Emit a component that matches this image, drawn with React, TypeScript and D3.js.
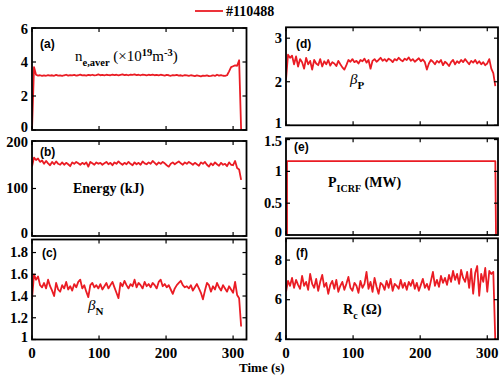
import React from "react";
import * as d3 from "d3";

// ---------- DATA ----------
const legendLabel = "#110488";
const xTicks = [0, 100, 200, 300];

const timeGrid = [
  0, 3, 6, 9, 12, 15, 18, 21, 24, 27, 30, 33, 36, 39, 42, 45, 48, 51, 54, 57,
  60, 63, 66, 69, 72, 75, 78, 81, 84, 87, 90, 93, 96, 99, 102, 105, 108, 111, 114, 117,
  120, 123, 126, 129, 132, 135, 138, 141, 144, 147, 150, 153, 156, 159, 162, 165, 168, 171, 174, 177,
  180, 183, 186, 189, 192, 195, 198, 201, 204, 207, 210, 213, 216, 219, 222, 225, 228, 231, 234, 237,
  240, 243, 246, 249, 252, 255, 258, 261, 264, 267, 270, 273, 276, 279, 282, 285, 288, 291, 294, 297,
  300, 303, 306, 309, 312,
];

const neAver = [
  0, 3.7, 3.25, 3.2, 3.22, 3.18, 3.21, 3.19, 3.23, 3.2,
  3.22, 3.19, 3.24, 3.2, 3.21, 3.18, 3.22, 3.25, 3.2, 3.23,
  3.21, 3.24, 3.2, 3.22, 3.26, 3.21, 3.23, 3.2, 3.24, 3.22,
  3.25, 3.21, 3.23, 3.27, 3.22, 3.24, 3.21, 3.25, 3.23, 3.22,
  3.26, 3.23, 3.25, 3.21, 3.24, 3.27, 3.23, 3.25, 3.22, 3.26,
  3.24, 3.27, 3.23, 3.25, 3.22, 3.26, 3.24, 3.21, 3.25, 3.23,
  3.26, 3.22, 3.24, 3.21, 3.25, 3.23, 3.2, 3.24, 3.22, 3.19,
  3.23, 3.21, 3.24, 3.2, 3.22, 3.19, 3.23, 3.21, 3.18, 3.22,
  3.2, 3.17, 3.21, 3.19, 3.16, 3.2, 3.18, 3.21, 3.17, 3.19,
  3.22, 3.18, 3.25, 3.2, 3.23, 3.19, 3.18, 3.22, 3.45, 3.7,
  3.75, 3.8, 3.78, 4.1, 0,
];

const energy = [
  146, 165, 160, 163, 156, 159, 152, 158, 153, 149,
  156, 151, 157, 152, 150, 155, 150, 154, 151, 147,
  155, 152, 156, 153, 150, 154, 151, 155, 146, 156,
  153, 150, 155, 152, 154, 150, 153, 156, 151, 154,
  149, 155, 152, 157, 153, 150, 154, 151, 156, 152,
  149, 155, 151, 154, 150, 157, 153, 151, 155, 152,
  158, 154, 150, 155, 152, 156, 153, 149, 146, 152,
  155, 151, 154, 157, 153, 150, 155, 152, 156, 153,
  150, 154, 151, 148, 155, 152, 156, 150, 146, 153,
  149, 155, 151, 148, 154, 150, 152, 147, 155, 150,
  149, 158, 143, 140, 118,
];

const betaN = [
  1.37, 1.6, 1.55, 1.58, 1.5, 1.48, 1.52, 1.47, 1.55, 1.49,
  1.45, 1.4, 1.52, 1.46, 1.44, 1.5, 1.47, 1.53, 1.46, 1.49,
  1.45, 1.51, 1.48, 1.53, 1.55, 1.47, 1.5, 1.44, 1.39, 1.5,
  1.52, 1.48, 1.5, 1.47, 1.51, 1.46, 1.49, 1.52, 1.47, 1.5,
  1.53, 1.48, 1.43, 1.38, 1.52, 1.49, 1.54, 1.5, 1.47, 1.51,
  1.49, 1.55, 1.48, 1.52, 1.5, 1.47, 1.53, 1.49, 1.51, 1.48,
  1.52, 1.5, 1.47, 1.53, 1.55, 1.49, 1.51, 1.48, 1.5, 1.46,
  1.42, 1.47, 1.5, 1.52, 1.54, 1.5, 1.48, 1.49, 1.47, 1.5,
  1.45, 1.48, 1.51, 1.47, 1.43, 1.37, 1.45, 1.52, 1.5, 1.44,
  1.49, 1.46, 1.52, 1.48, 1.45, 1.5, 1.47, 1.44, 1.49, 1.46,
  1.43, 1.53, 1.41, 1.38, 1.12,
];

const betaP = [
  2.05, 2.62, 2.55, 2.6, 2.4, 2.58, 2.35, 2.52, 2.45, 2.3,
  2.55, 2.4, 2.48, 2.28, 2.5, 2.42, 2.38, 2.52, 2.35, 2.47,
  2.4, 2.5, 2.37, 2.45, 2.42, 2.36, 2.48, 2.4, 2.33, 2.28,
  2.38, 2.5, 2.46, 2.52, 2.45, 2.48, 2.42, 2.5, 2.47, 2.53,
  2.44, 2.5, 2.3, 2.48, 2.52, 2.46, 2.5, 2.55, 2.48, 2.52,
  2.47, 2.53, 2.5, 2.45, 2.52, 2.49, 2.55, 2.5, 2.47, 2.53,
  2.5, 2.56, 2.48, 2.52, 2.46, 2.5, 2.54, 2.47, 2.51, 2.45,
  2.28, 2.42, 2.5, 2.46, 2.4, 2.48, 2.44, 2.5, 2.38, 2.46,
  2.42, 2.36, 2.45, 2.5, 2.4, 2.47, 2.43, 2.5, 2.45, 2.52,
  2.46, 2.4, 2.48, 2.44, 2.5, 2.42, 2.47, 2.4, 2.45, 2.38,
  2.42, 2.52, 2.3, 2.2, 1.9,
];

const pIcrfTime = [1.5, 1.5, 312, 313];
const pIcrf = [0, 1.16, 1.16, 0];

const rc = [
  6.4, 6.95, 6.7, 7.1, 6.6, 7.0, 6.75, 6.55, 7.2, 6.7,
  6.9, 6.5, 7.3, 6.8, 6.6, 7.05, 6.45, 6.9, 7.25, 6.65,
  6.85, 6.3, 6.75, 6.95, 6.55, 7.0, 6.4, 6.7, 6.9, 6.5,
  6.8, 7.15, 6.6, 6.45, 6.85, 6.7, 6.35, 6.95, 6.6, 6.8,
  7.4, 6.55, 6.9, 6.4, 7.1, 6.65, 6.3, 6.85, 6.75, 6.5,
  6.95, 6.6, 7.05, 6.45, 6.8, 6.7, 6.55, 7.0, 6.6, 6.85,
  6.5, 6.9, 6.7, 7.0, 6.55, 6.85, 6.45, 6.75, 7.05, 6.6,
  6.8, 6.5, 6.95, 7.4, 6.7, 7.0, 6.65, 7.2, 6.85, 7.1,
  6.75, 7.25, 6.9, 7.45, 7.0, 7.3, 6.8, 7.5, 7.1, 6.9,
  7.4, 6.6, 7.55, 6.3, 7.35, 7.7, 6.2, 7.3, 6.9, 7.6,
  6.4, 7.45, 7.3, 7.4, 3.9,
];

const ticksA = [0, 2, 4, 6];
const ticksB = [0, 100, 200];
const ticksC = [1, 1.2, 1.4, 1.6, 1.8];
const ticksD = [1, 2, 3];
const ticksE = [0, 0.5, 1, 1.5];
const ticksF = [4, 6, 8];

// ---------- STYLE ----------
const RED = "#ea1c24";
const SERIF = "'Liberation Serif', 'Times New Roman', serif";
const SANS = "'Liberation Sans', Arial, sans-serif";

type Panel = {
  id: string;
  x0: number; x1: number; xMax: number;
  y0: number; y1: number; yDomain: [number, number];
  ticks: number[];
  times: number[];
  values: number[];
  xLabels: boolean;
};

const panels: Panel[] = [
  { id: "a", x0: 32, x1: 246.5, xMax: 320, y0: 28, y1: 130, yDomain: [0, 6], ticks: ticksA, times: timeGrid, values: neAver, xLabels: false },
  { id: "b", x0: 32, x1: 246.5, xMax: 320, y0: 141, y1: 236, yDomain: [0, 200], ticks: ticksB, times: timeGrid, values: energy, xLabels: false },
  { id: "c", x0: 32, x1: 246.5, xMax: 320, y0: 239.5, y1: 339.5, yDomain: [1, 1.92], ticks: ticksC, times: timeGrid, values: betaN, xLabels: true },
  { id: "d", x0: 286, x1: 498, xMax: 316, y0: 27.3, y1: 125.3, yDomain: [1, 3.25], ticks: ticksD, times: timeGrid, values: betaP, xLabels: false },
  { id: "e", x0: 286, x1: 498, xMax: 316, y0: 138.3, y1: 235, yDomain: [0, 1.52], ticks: ticksE, times: pIcrfTime, values: pIcrf, xLabels: false },
  { id: "f", x0: 286, x1: 498, xMax: 316, y0: 238.3, y1: 339.3, yDomain: [4, 9.1], ticks: ticksF, times: timeGrid, values: rc, xLabels: true },
];

function PanelView({ p }: { p: Panel }) {
  const x = d3.scaleLinear().domain([0, p.xMax]).range([p.x0, p.x1]);
  const y = d3.scaleLinear().domain(p.yDomain).range([p.y1, p.y0]);
  const pts = p.times.map((t, i) => [t, p.values[i]] as [number, number]).filter((d) => d[1] !== undefined);
  const line = d3.line<[number, number]>().x((d) => x(d[0])).y((d) => y(d[1]));
  const tl = 4;
  return (
    <g>
      <defs>
        <clipPath id={`clip-${p.id}`}>
          <rect x={p.x0} y={p.y0} width={p.x1 - p.x0} height={p.y1 - p.y0} />
        </clipPath>
      </defs>
      <path d={line(pts) || ""} fill="none" stroke={RED} strokeWidth={1.8} strokeLinejoin="round" clipPath={`url(#clip-${p.id})`} />
      <rect x={p.x0} y={p.y0} width={p.x1 - p.x0} height={p.y1 - p.y0} fill="none" stroke="#000" strokeWidth={1.8} />
      {xTicks.map((t) => (
        <g key={`xt${t}`}>
          <line x1={x(t)} x2={x(t)} y1={p.y1} y2={p.y1 - tl} stroke="#000" strokeWidth={1.2} />
          <line x1={x(t)} x2={x(t)} y1={p.y0} y2={p.y0 + tl} stroke="#000" strokeWidth={1.2} />
          {p.xLabels && (
            <text x={x(t)} y={358} textAnchor="middle" fontFamily={SERIF} fontWeight="bold" fontSize={15}>
              {t}
            </text>
          )}
        </g>
      ))}
      {p.ticks.map((v) => {
        const shift = Math.abs(y(v) - p.y1) < 1 ? -2.5 : Math.abs(y(v) - p.y0) < 3 ? 1.5 : 0;
        return (
          <g key={`yt${v}`}>
            <line x1={p.x0} x2={p.x0 + tl} y1={y(v)} y2={y(v)} stroke="#000" strokeWidth={1.2} />
            <line x1={p.x1} x2={p.x1 - tl} y1={y(v)} y2={y(v)} stroke="#000" strokeWidth={1.2} />
            <text x={p.x0 - 4} y={y(v) + shift} dy="0.33em" textAnchor="end" fontFamily={SERIF} fontWeight="bold" fontSize={14.5}>
              {String(v)}
            </text>
          </g>
        );
      })}
    </g>
  );
}

export default function App() {
  const lbl = { fontFamily: SANS, fontWeight: "bold" as const, fontSize: 12 };
  return (
    <svg width={502} height={375} style={{ position: "absolute", left: 0, top: 0, background: "#fff" }}>
      <rect x={0} y={0} width={502} height={375} fill="#fff" />
      {panels.map((p) => (
        <PanelView key={p.id} p={p} />
      ))}
      {/* panel letters */}
      <text x={40} y={48} {...lbl}>(a)</text>
      <text x={40} y={156} {...lbl}>(b)</text>
      <text x={42} y={257} {...lbl}>(c)</text>
      <text x={296} y={48} {...lbl}>(d)</text>
      <text x={294} y={151} {...lbl}>(e)</text>
      <text x={296} y={257} {...lbl}>(f)</text>

      {/* annotations */}
      <text x={75} y={61} fontFamily={SERIF} fontSize={15}>
        n<tspan dy={5} fontSize={10.5} fontWeight="bold">e,aver</tspan>
        <tspan dy={-5}> (×10</tspan>
        <tspan dy={-5} fontSize={10.5} fontWeight="bold">19</tspan>
        <tspan dy={5}>m</tspan>
        <tspan dy={-5} fontSize={10.5} fontWeight="bold">-3</tspan>
        <tspan dy={5}>)</tspan>
      </text>
      <text x={73} y={193} fontFamily={SERIF} fontSize={14} fontWeight="bold">Energy (kJ)</text>
      <text x={88} y={310} fontFamily={SERIF} fontSize={15} fontStyle="italic">
        β<tspan dy={5} fontSize={11} fontWeight="bold" fontStyle="normal">N</tspan>
      </text>
      <text x={350} y={84} fontFamily={SERIF} fontSize={15} fontStyle="italic">
        β<tspan dy={5} fontSize={11} fontWeight="bold" fontStyle="normal">P</tspan>
      </text>
      <text x={328} y={187} fontFamily={SERIF} fontSize={14} fontWeight="bold">
        P<tspan dy={5} fontSize={10}>ICRF</tspan>
        <tspan dy={-5}> (MW)</tspan>
      </text>
      <text x={343} y={314} fontFamily={SERIF} fontSize={14} fontWeight="bold">
        R<tspan dy={5} fontSize={10}>c</tspan>
        <tspan dy={-5}> (Ω)</tspan>
      </text>

      {/* legend */}
      <line x1={195} x2={223} y1={11} y2={11} stroke={RED} strokeWidth={1.8} />
      <text x={226} y={16} fontFamily={SERIF} fontSize={14} fontWeight="bold">{legendLabel}</text>

      {/* x axis title */}
      <text x={239} y={372} fontFamily={SERIF} fontSize={13} fontWeight="bold">Time (s)</text>
    </svg>
  );
}
